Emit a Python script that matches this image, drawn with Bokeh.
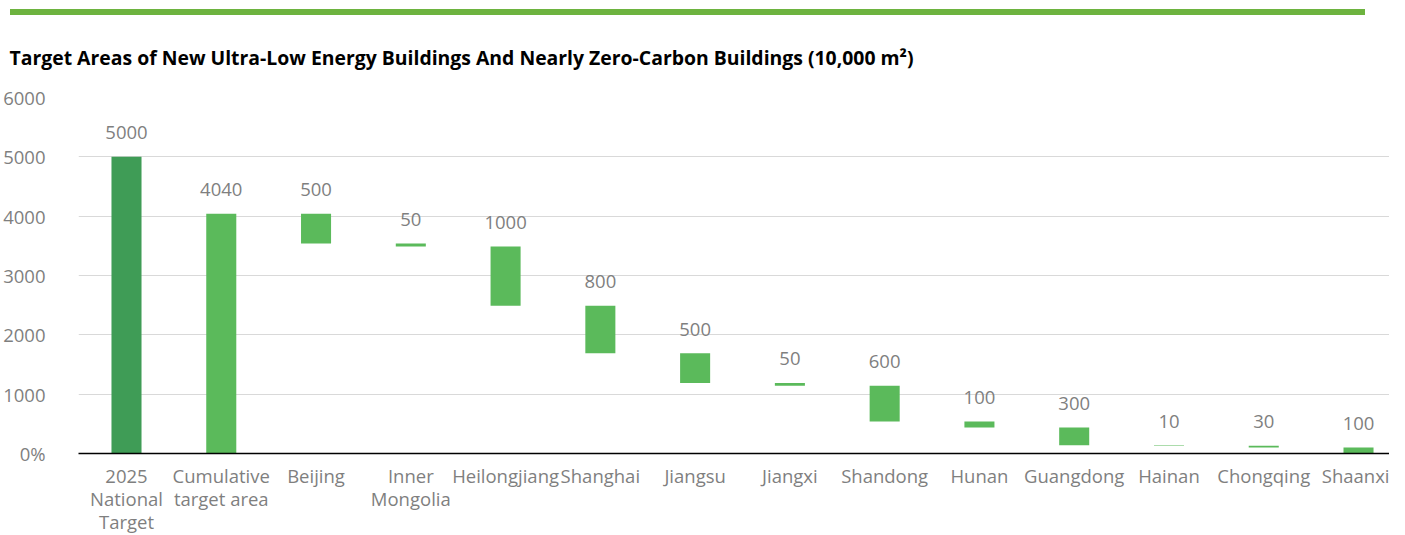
import numpy as np
from bokeh.plotting import figure
from bokeh.models import ColumnDataSource, Div, FixedTicker, Range1d
from bokeh.layouts import column
from bokeh.core.properties import value
from bokeh.embed import file_html
from bokeh.resources import INLINE

# ---- data ----
categories = ["2025\nNational\nTarget", "Cumulative\ntarget area", "Beijing", "Inner\nMongolia",
              "Heilongjiang", "Shanghai", "Jiangsu", "Jiangxi", "Shandong", "Hunan",
              "Guangdong", "Hainan", "Chongqing", "Shaanxi"]
national_target = 5000
cumulative_target = 4040
province_values = [500, 50, 1000, 800, 500, 50, 600, 100, 300, 10, 30, 100]
y_ticks = [0, 1000, 2000, 3000, 4000, 5000, 6000]
y_tick_labels = ["0%", "1000", "2000", "3000", "4000", "5000", "6000"]
title_text = "Target Areas of New Ultra-Low Energy Buildings And Nearly Zero-Carbon Buildings (10,000 m\u00b2)"

FONT = "Open Sans"
GRAY = "#7f7f7f"
DARK_GREEN = "#3f9c56"
GREEN = "#5bba5b"

# waterfall geometry derived from data
pv = np.array(province_values, dtype=float)
tops_prov = cumulative_target - np.concatenate([[0], np.cumsum(pv)[:-1]])
bottoms_prov = tops_prov - pv
tops = [national_target, cumulative_target] + list(tops_prov)
bottoms = [0, 0] + list(bottoms_prov)
labels = [str(national_target), str(cumulative_target)] + [str(v) for v in province_values]
colors = [DARK_GREEN] + [GREEN] * (len(categories) - 1)
xs = list(range(len(categories)))

src = ColumnDataSource(dict(x=xs, top=tops, bottom=bottoms, label=labels, color=colors))

p = figure(x_range=Range1d(-0.5065, 13.327), y_range=Range1d(0, 6000),
           frame_width=1311, frame_height=356,
           output_backend="svg", toolbar_location=None,
           min_border_left=78, min_border_right=0, min_border_top=82, min_border_bottom=0)

p.title.text = title_text
p.title.text_font = FONT
p.title.text_font_size = "19.4px"
p.title.text_font_style = "bold"
p.title.text_color = "#000000"
p.title.align = "left"
p.title.offset = -69
p.title.standoff = 53

p.vbar(x="x", top="top", bottom="bottom", width=0.317, color="color", line_color=None, source=src)
p.text(x="x", y="top", text="label", source=src, text_font=value(FONT), text_font_size="18.5px",
       text_color=GRAY, text_align="center", text_baseline="middle", y_offset=-24)

p.outline_line_color = None
p.xgrid.grid_line_color = None
p.ygrid.grid_line_color = "#d9d9d9"
p.ygrid.grid_line_width = 1.2
p.ygrid.ticker = FixedTicker(ticks=y_ticks)

p.yaxis.ticker = FixedTicker(ticks=y_ticks)
p.yaxis.major_label_overrides = dict(zip(y_ticks, y_tick_labels))
p.yaxis.axis_line_color = None
p.yaxis.major_tick_line_color = None
p.yaxis.minor_tick_line_color = None
p.yaxis.major_label_text_font = FONT
p.yaxis.major_label_text_font_size = "18.5px"
p.yaxis.major_label_text_color = GRAY
p.yaxis.major_label_standoff = 27

p.xaxis.ticker = FixedTicker(ticks=xs)
p.xaxis.major_label_overrides = dict(zip(xs, categories))
p.xaxis.axis_line_color = "#000000"
p.xaxis.axis_line_width = 1.5
p.xaxis.major_tick_line_color = None
p.xaxis.minor_tick_line_color = None
p.xaxis.major_label_text_font = FONT
p.xaxis.major_label_text_font_size = "18.5px"
p.xaxis.major_label_text_color = GRAY
p.xaxis.major_label_standoff = 3
p.xaxis.major_label_text_line_height = 0.93

bar = Div(text="", width=1355, height=6, margin=(9, 0, 0, 10),
          styles={"background-color": "#6db33f"})

layout = column(bar, p, spacing=0)
open("out.html", "w").write(file_html(layout, INLINE))
